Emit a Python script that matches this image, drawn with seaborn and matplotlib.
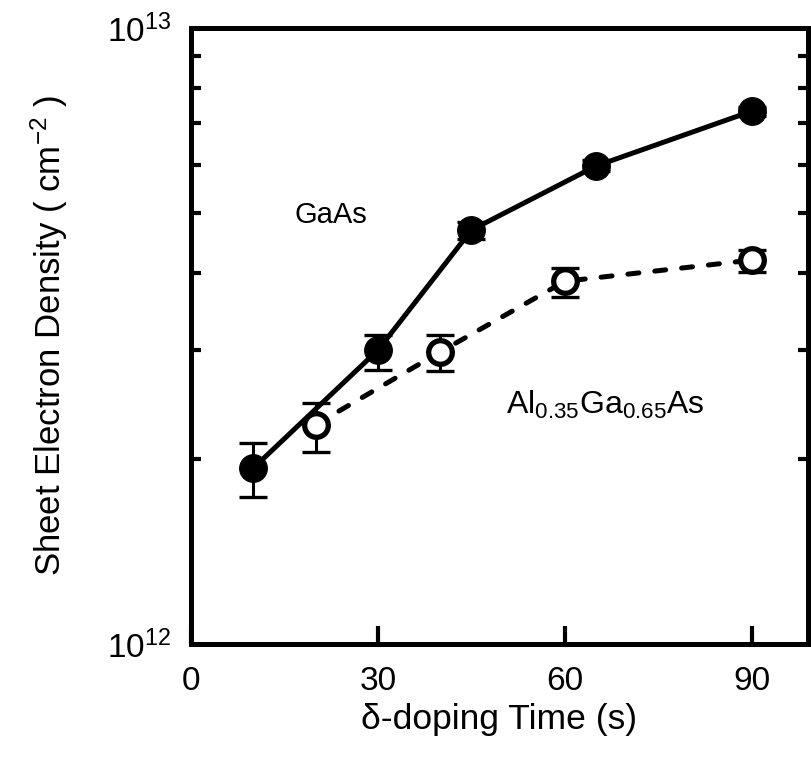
import numpy as np
import pandas as pd
import matplotlib
matplotlib.use("Agg")
import matplotlib.pyplot as plt
import seaborn as sns
from matplotlib.ticker import LogLocator, NullFormatter, FixedLocator, FixedFormatter

# ---- data ----
gaas_time = [10, 30, 45, 65, 90]
gaas_density = [1.93e12, 3.0e12, 4.70e12, 5.97e12, 7.33e12]
gaas_err_low = [1.73e12, 2.78e12, 4.55e12, 5.85e12, 7.2e12]
gaas_err_high = [2.12e12, 3.18e12, 4.85e12, 6.1e12, 7.45e12]

algaas_time = [20, 40, 60, 90]
algaas_density = [2.27e12, 2.98e12, 3.88e12, 4.20e12]
algaas_err_low = [2.05e12, 2.77e12, 3.66e12, 4.02e12]
algaas_err_high = [2.46e12, 3.18e12, 4.08e12, 4.36e12]

x_ticks = [0, 30, 60, 90]
y_tick_labels = [r"$10^{12}$", r"$10^{13}$"]

sns.set_style("ticks")
plt.rcParams["font.family"] = ["Liberation Sans", "DejaVu Sans"]
plt.rcParams["mathtext.fontset"] = "custom"
plt.rcParams["mathtext.rm"] = "Liberation Sans"
plt.rcParams["mathtext.it"] = "Liberation Sans:italic"
plt.rcParams["mathtext.bf"] = "Liberation Sans:bold"
plt.rcParams["mathtext.default"] = "rm"
for k in ["text.color", "axes.labelcolor", "xtick.color", "ytick.color", "axes.edgecolor"]:
    plt.rcParams[k] = "black"

fig = plt.figure(figsize=(8.11, 7.64), dpi=100)
ax = fig.add_axes([191 / 811, 1 - 644 / 764, (808 - 191) / 811, (644 - 28) / 764])

df_g = pd.DataFrame({"t": gaas_time, "n": gaas_density})
df_a = pd.DataFrame({"t": algaas_time, "n": algaas_density})

# error bars
g = np.array(gaas_density)
a = np.array(algaas_density)
ax.errorbar(gaas_time, g, yerr=[g - np.array(gaas_err_low), np.array(gaas_err_high) - g],
            fmt="none", ecolor="black", elinewidth=2.2, capsize=10, capthick=2.4, zorder=2)
ax.errorbar(algaas_time, a, yerr=[a - np.array(algaas_err_low), np.array(algaas_err_high) - a],
            fmt="none", ecolor="black", elinewidth=2.2, capsize=10, capthick=2.4, zorder=2)

sns.lineplot(data=df_g, x="t", y="n", ax=ax, color="black", linewidth=3.6,
             marker="o", markersize=20, markerfacecolor="black", markeredgecolor="black",
             zorder=3)
sns.lineplot(data=df_a, x="t", y="n", ax=ax, color="black", linewidth=3.6,
             linestyle=(0, (2.2, 3.2)), dash_capstyle="round",
             marker="o", markersize=17, markerfacecolor="white", markeredgecolor="black",
             markeredgewidth=3.8, zorder=3)

ax.set_yscale("log")
ax.set_xlim(0, 99)
ax.set_ylim(1e12, 1e13)

ax.xaxis.set_major_locator(FixedLocator(x_ticks))
ax.set_xticklabels([str(v) for v in x_ticks])
ax.yaxis.set_major_locator(FixedLocator([1e12, 1e13]))
ax.yaxis.set_major_formatter(FixedFormatter(y_tick_labels))
ax.yaxis.set_minor_locator(LogLocator(base=10, subs=np.arange(2, 10)))
ax.yaxis.set_minor_formatter(NullFormatter())

for s in ax.spines.values():
    s.set_linewidth(3.6)
    s.set_color("black")

ax.tick_params(axis="x", which="major", direction="in", length=13, width=3,
               labelsize=24, pad=16, top=False)
ax.tick_params(axis="y", which="major", direction="in", length=0, width=3,
               labelsize=24, pad=14, right=True)
ax.tick_params(axis="y", which="minor", direction="in", length=7, width=3,
               left=True, right=True)

ax.set_xlabel("δ-doping Time (s)", fontsize=25.5, labelpad=4)
ax.set_ylabel(r"Sheet Electron Density ( cm$^{-2}$ )", fontsize=25, labelpad=27)

ax.text(22.4, 4.97e12, "GaAs", fontsize=21, ha="center", va="center")
ax.text(66.5, 2.44e12, r"Al$_{0.35}$Ga$_{0.65}$As", fontsize=23, ha="center", va="center")

ax.grid(False)
fig.savefig("out.png", dpi=100)
